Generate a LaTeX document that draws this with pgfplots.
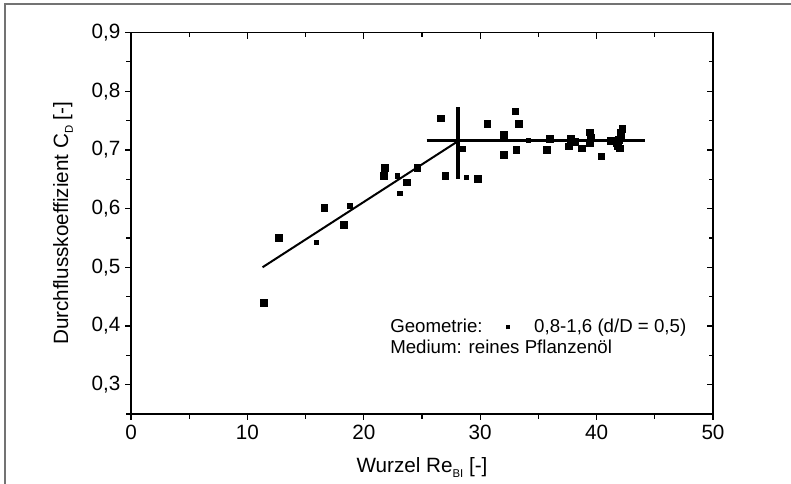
\documentclass[border=0pt]{standalone}
\usepackage{fontspec}
\setmainfont{Liberation Sans}
\usepackage{pgfplots}
\pgfplotsset{compat=1.18}
\newcommand{\lsub}[1]{\raisebox{-0.45ex}{\fontsize{8.5}{9}\selectfont #1}}
\pgfplotstableread{
x y
11.4 0.440
12.7 0.550
16.6 0.601
18.3 0.572
21.7 0.656
21.8 0.670
23.7 0.645
24.6 0.670
26.6 0.754
27.0 0.656
29.8 0.651
30.6 0.744
32.0 0.726
32.0 0.692
33.0 0.766
33.3 0.744
33.1 0.700
35.7 0.700
36.0 0.719
37.6 0.706
37.8 0.719
38.1 0.714
38.7 0.703
39.4 0.730
39.5 0.721
39.4 0.712
40.4 0.689
41.2 0.716
41.7 0.712
41.8 0.707
42.0 0.703
42.1 0.723
42.2 0.736
42.1 0.730
41.9 0.717
}\bigpts
\pgfplotstableread{
x y
15.9 0.542
18.8 0.605
22.9 0.656
23.1 0.626
28.5 0.702
28.8 0.654
34.1 0.716
}\smallpts
\begin{document}
\begin{tikzpicture}
\useasboundingbox (0,0) rectangle (593.25pt,363pt);
\draw[line width=1.5pt, black!55] (3.75pt,0) -- (3.75pt,360pt) -- (593.25pt,360pt);
\begin{axis}[
  at={(98.25pt,52.5pt)}, anchor=south west,
  scale only axis, width=436.5pt, height=286.1pt,
  xmin=0, xmax=50, ymin=0.25, ymax=0.9,
  xtick={0,10,20,30,40,50},
  ytick={0.3,0.4,0.5,0.6,0.7,0.8,0.9},
  minor xtick={5,15,25,35,45},
  minor ytick={0.25,0.35,0.45,0.55,0.65,0.75,0.85},
  xtick pos=left, ytick pos=left, tick align=outside,
  major tick length=4.5pt, minor tick length=3.5pt,
  every tick/.style={black, line width=0.9pt},
  axis line style={line width=1.1pt},
  /pgf/number format/assume math mode=true,
  tick label style={font=\fontsize{15.5}{18}\selectfont},
  yticklabel style={/pgf/number format/.cd, fixed, fixed zerofill, precision=1, use comma},
  xticklabel style={/pgf/number format/.cd, fixed, precision=0},
  xlabel={Wurzel Re\lsub{BI} [-]},
  ylabel={Durchflusskoeffizient C\lsub{D} [-]},
  label style={font=\fontsize{15.5}{18}\selectfont},
  xlabel style={at={(axis description cs:0.5,0)}, anchor=base, yshift=-44.25pt},
  ylabel style={at={(axis description cs:-0.1168,0.5)}, anchor=center},
  clip=false,
]
\addplot[black, line width=1.5pt] coordinates {(11.3,0.500) (28.1,0.715)};
\addplot[black, line width=1.8pt] coordinates {(25.4,0.716) (44.2,0.716)};
\addplot[black, line width=3.5pt] coordinates {(28.1,0.773) (28.1,0.650)};
\addplot[only marks, mark=square*, mark size=2.5pt, black] table[x=x,y=y] {\bigpts};
\addplot[only marks, mark=square*, mark size=1.6pt, black] table[x=x,y=y] {\smallpts};
\node[anchor=base west, font=\fontsize{14}{16}\selectfont, inner sep=0pt] at (axis cs:22.25,0.389) {Geometrie:};
\node[anchor=base west, font=\fontsize{14}{16}\selectfont, inner sep=0pt] at (axis cs:34.62,0.389) {0,8-1,6 (d/D = 0,5)};
\node[anchor=center, inner sep=0pt] at (axis cs:32.39,0.398) {\rule{3.5pt}{3.5pt}};
\node[anchor=base west, font=\fontsize{14}{16}\selectfont, inner sep=0pt] at (axis cs:22.25,0.353) {Medium: reines Pflanzenöl};
\end{axis}
\begin{axis}[
  at={(98.25pt,52.5pt)}, anchor=south west,
  scale only axis, width=436.5pt, height=286.1pt,
  xmin=0, xmax=50, ymin=0.25, ymax=0.9,
  xtick={0,10,20,30,40,50},
  ytick={0.3,0.4,0.5,0.6,0.7,0.8,0.9},
  minor xtick={5,15,25,35,45},
  minor ytick={0.25,0.35,0.45,0.55,0.65,0.75,0.85},
  xtick pos=right, ytick pos=right, tick align=inside,
  major tick length=4.5pt, minor tick length=3pt,
  every tick/.style={black, line width=0.9pt},
  axis line style={line width=1.1pt},
  xticklabels={}, yticklabels={},
]
\end{axis}
\end{tikzpicture}
\end{document}
